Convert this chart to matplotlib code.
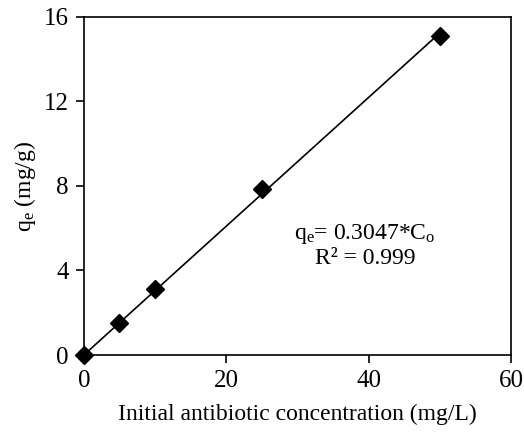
import numpy as np
import matplotlib
matplotlib.use('Agg')
import matplotlib.pyplot as plt

plt.rcParams['font.family'] = ['Liberation Serif', 'DejaVu Serif']
plt.rcParams['mathtext.fontset'] = 'custom'
plt.rcParams['mathtext.rm'] = 'Liberation Serif'
plt.rcParams['mathtext.it'] = 'Liberation Serif'

# data
conc = [0, 5, 10, 25, 50]
qe = [0, 1.52, 3.12, 7.88, 15.08]
slope = 0.3047
fit_x = [0, 50]
fit_y = [slope * v for v in fit_x]

fig = plt.figure(figsize=(5.24, 4.34), dpi=100)
ax = fig.add_axes([0.160, 0.182, 0.815, 0.779])

ax.plot(fit_x, fit_y, color='black', lw=1.2, zorder=2)
ax.plot(conc, qe, linestyle='none', marker='D', ms=9, color='black', zorder=3, clip_on=False)

ax.set_xlim(0, 60)
ax.set_ylim(0, 16)
ax.set_xticks([0, 20, 40, 60])
ax.set_yticks([0, 4, 8, 12, 16])
ax.tick_params(direction='out', length=6, width=1.2, labelsize=18, pad=5)
for s in ax.spines.values():
    s.set_linewidth(1.2)

ax.set_xlabel('Initial antibiotic concentration (mg/L)', fontsize=17, labelpad=8)
ax.set_ylabel(r'q$_\mathregular{e}$ (mg/g)', fontsize=17, labelpad=4)

ax.text(39.5, 5.72, r'q$_\mathregular{e}$= 0.3047*C$_\mathregular{o}$', fontsize=17,
        ha='center', va='center')
ax.text(39.5, 4.57, 'R² = 0.999', fontsize=17, ha='center', va='center')

fig.savefig('out.png', dpi=100)
